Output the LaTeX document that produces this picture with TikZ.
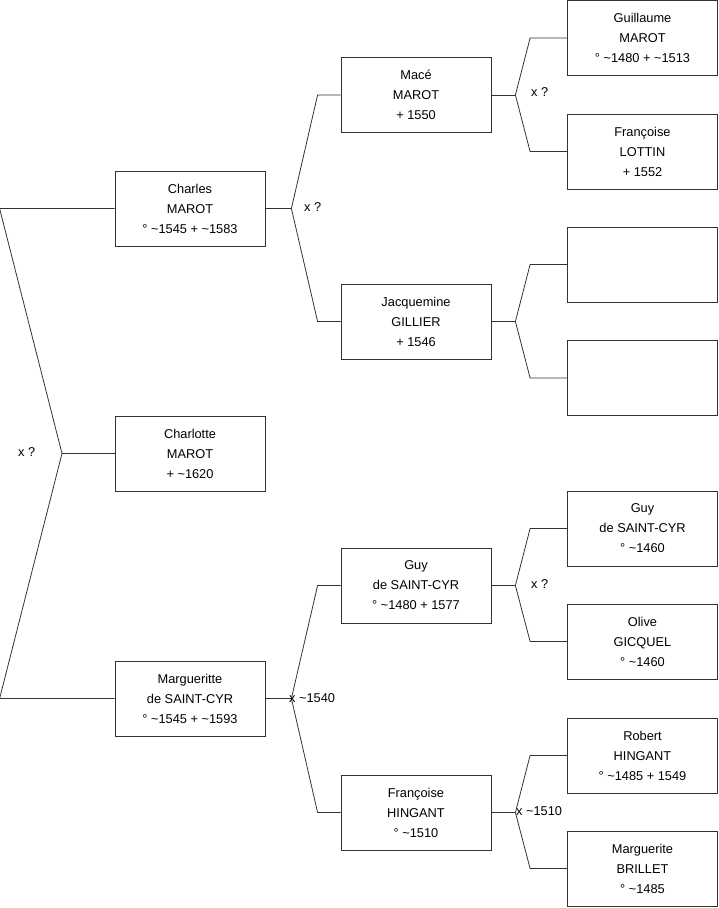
\documentclass[tikz,border=0pt]{standalone}
\usepackage{fontspec}
\setmainfont{Liberation Sans}
\usetikzlibrary{positioning}
\definecolor{edge}{RGB}{51,51,51}

\begin{document}
\begin{tikzpicture}[x=1pt,y=-1pt,
  box/.style={draw=edge,line width=0.8pt,minimum width=150pt,minimum height=75pt,inner sep=0pt,align=center,font=\fontsize{12.8}{20}\selectfont},
  link/.style={draw=edge,line width=0.8pt},
  tag/.style={anchor=west,inner sep=1pt,font=\fontsize{12.8}{14}\selectfont}]
\useasboundingbox (0,0) rectangle (719,908);

% generation 1
\node[box] (charles) at (190,208.5) {Charles\\MAROT\\° \textasciitilde1545 + \textasciitilde1583};
\node[box] (charlotte) at (190,453.5) {Charlotte\\MAROT\\+ \textasciitilde1620};
\node[box] (margsc) at (190,698.5) {Margueritte\\de SAINT-CYR\\° \textasciitilde1545 + \textasciitilde1593};

% generation 2
\node[box] (mace) at (416,95) {Macé\\MAROT\\+ 1550};
\node[box] (jacq) at (416,321.5) {Jacquemine\\GILLIER\\+ 1546};
\node[box] (guysc) at (416,585.5) {Guy\\de SAINT-CYR\\° \textasciitilde1480 + 1577};
\node[box] (franh) at (416,812.5) {Françoise\\HINGANT\\° \textasciitilde1510};

% generation 3
\node[box] (guil) at (642.5,38) {Guillaume\\MAROT\\° \textasciitilde1480 + \textasciitilde1513};
\node[box] (franl) at (642.5,151.5) {Françoise\\LOTTIN\\+ 1552};
\node[box] (emptya) at (642.5,264.5) {};
\node[box] (emptyb) at (642.5,378) {};
\node[box] (guyold) at (642.5,528.5) {Guy\\de SAINT-CYR\\° \textasciitilde1460};
\node[box] (olive) at (642.5,641.5) {Olive\\GICQUEL\\° \textasciitilde1460};
\node[box] (robert) at (642.5,755.5) {Robert\\HINGANT\\° \textasciitilde1485 + 1549};
\node[box] (margbr) at (642.5,868.5) {Marguerite\\BRILLET\\° \textasciitilde1485};

% left fork
\coordinate (f0) at (62,453.5);
\draw[link] (charles.west) -- ++(-115,0) -- (f0) -- ([xshift=-115pt]margsc.west) -- (margsc.west);
\draw[link] (f0) -- (charlotte.west);
\node[tag] (t0) at (17,452) {x ?};

% Charles
\draw[link] (charles.east) -- ++(26,0) coordinate (f1);
\draw[link] (mace.west) -- ++(-23,0) -- (f1) -- ([xshift=-23pt]jacq.west) -- (jacq.west);
\node[tag] (t1) at (303,207) {x ?};

% Margueritte
\draw[link] (margsc.east) -- ++(26,0) coordinate (f2);
\draw[link] (guysc.west) -- ++(-23,0) -- (f2) -- ([xshift=-23pt]franh.west) -- (franh.west);
\node[tag] (t2) at (288,698) {x \textasciitilde1540};

% Macé
\draw[link] (mace.east) -- ++(24,0) coordinate (f3);
\draw[link] (guil.west) -- ++(-37,0) -- (f3) -- ([xshift=-37pt]franl.west) -- (franl.west);
\node[tag] (t3) at (530,92) {x ?};

% Jacquemine
\draw[link] (jacq.east) -- ++(24,0) coordinate (f4);
\draw[link] (emptya.west) -- ++(-37,0) -- (f4) -- ([xshift=-37pt]emptyb.west) -- (emptyb.west);

% Guy
\draw[link] (guysc.east) -- ++(24,0) coordinate (f5);
\draw[link] (guyold.west) -- ++(-37,0) -- (f5) -- ([xshift=-37pt]olive.west) -- (olive.west);
\node[tag] (t5) at (530,584) {x ?};

% Françoise
\draw[link] (franh.east) -- ++(24,0) coordinate (f6);
\draw[link] (robert.west) -- ++(-37,0) -- (f6) -- ([xshift=-37pt]margbr.west) -- (margbr.west);
\node[tag] (t6) at (515,811) {x \textasciitilde1510};
\end{tikzpicture}
\end{document}
